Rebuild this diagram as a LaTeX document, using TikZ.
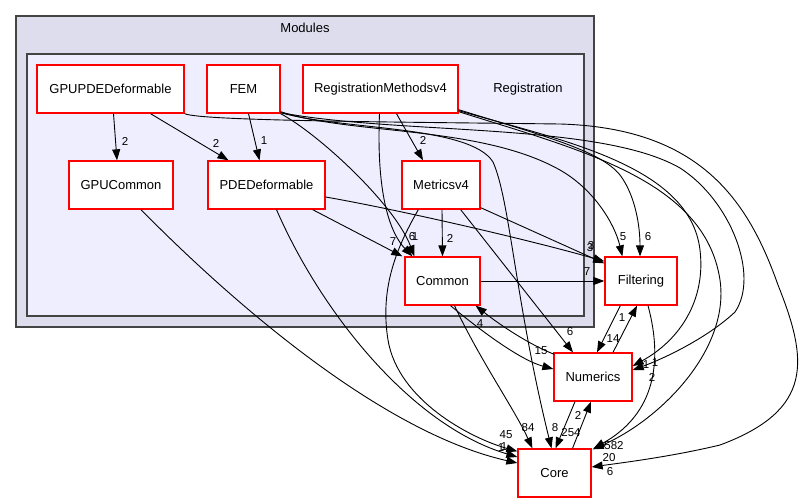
\documentclass[tikz,border=0pt]{standalone}
\usepackage{fontspec}
\setmainfont{Liberation Sans}
\usetikzlibrary{arrows.meta,calc}
\definecolor{modfill}{HTML}{DDDDEE}
\definecolor{regfill}{HTML}{EEEEFF}
\definecolor{clborder}{HTML}{444444}

\begin{document}
\begin{tikzpicture}[x=1pt,y=-1pt,
  dirbox/.style={draw=red,line width=1.3pt,fill=white,minimum height=48pt,inner sep=0pt,font=\fontsize{13}{15}\selectfont},
  dep/.style={line width=0.9pt,-{Triangle[length=11pt,width=8pt]}},
  num/.style={inner sep=0pt,font=\fontsize{11.5}{12}\selectfont}]
\useasboundingbox (0,0) rectangle (806,503);
% Clusters
\filldraw[fill=modfill,draw=clborder,line width=1.5pt] (16,16) rectangle (594,327);
\node[font=\fontsize{13}{15}\selectfont] (modlbl) at (305,28) {Modules};
\filldraw[fill=regfill,draw=clborder,line width=1.5pt] (27,54) rectangle (584,316);
\node[font=\fontsize{13}{15}\selectfont] (reglbl) at (528,89) {Registration};
% Directories
\node[dirbox,minimum width=147pt] (gpupde) at (110.5,89) {GPUPDEDeformable};
\node[dirbox,minimum width=73pt] (fem) at (243.5,89) {FEM};
\node[dirbox,minimum width=155pt] (regm) at (380.5,89) {RegistrationMethodsv4};
\node[dirbox,minimum width=104pt] (gpucommon) at (121,185) {GPUCommon};
\node[dirbox,minimum width=117pt] (pdedef) at (266.5,185) {PDEDeformable};
\node[dirbox,minimum width=78pt] (metrics) at (441,185) {Metricsv4};
\node[dirbox,minimum width=75pt] (common) at (442.5,281) {Common};
\node[dirbox,minimum width=72pt] (filtering) at (641,281) {Filtering};
\node[dirbox,minimum width=78pt] (numerics) at (593,377) {Numerics};
\node[dirbox,minimum width=73pt] (core) at (554.5,473) {Core};
% Dependencies inside Registration
\draw[dep] ($(gpupde.south)+(3,0)$) -- ($(gpucommon.north)+(-4,0)$);
\draw[dep] ($(gpupde.south)+(40,0)$) -- ($(pdedef.north)+(-38,0)$);
\draw[dep] ($(fem.south)+(5,0)$) -- ($(pdedef.north)+(-7,0)$);
\draw[dep] ($(regm.south)+(16,0)$) -- ($(metrics.north)+(-18,0)$);
\draw[dep] ($(pdedef.south east)+(-13,0)$) -- ($(common.north west)+(-2,0)$);
\draw[dep] ($(metrics.south)+(1,0)$) -- (common.north);
\draw[dep] (fem.south east) .. controls (320,135) and (395,205) .. ($(common.north west)+(10,0)$);
\draw[dep] ($(regm.south)+(-1,0)$) .. controls (376,200) and (392,235) .. ($(common.north west)+(8,0)$);
% To Core
\draw[dep] ($(metrics.south west)+(17,0)$) .. controls (395,250) and (380,290) .. (388,340)
  .. controls (398,400) and (470,438) .. ($(core.north west)+(0,3)$);
\draw[dep] ($(pdedef.south)+(10,0)$) .. controls (320,310) and (410,425) .. ($(core.west)+(0,-16)$);
\draw[dep] ($(gpucommon.south)+(20,0)$) .. controls (230,300) and (380,432) .. ($(core.west)+(0,-10)$);
\draw[dep] ($(fem.south east)+(0,-1)$) .. controls (340,130) and (470,125) .. (493,162)
  .. controls (510,200) and (515,300) .. ($(core.north)+(-3,0)$);
\draw[dep] ($(common.south)+(12,0)$) .. controls (480,360) and (515,410) .. ($(core.north west)+(15,0)$);
\draw[dep] (gpupde.south east) .. controls (200,121) and (400,122) .. (560,124)
  .. controls (700,128) and (748,200) .. (778,285)
  .. controls (808,360) and (814,410) .. (720,445)
  .. controls (670,457) and (620,463) .. ($(core.east)+(0,-6)$);
\draw[dep] ($(regm.south east)+(0,-2)$) .. controls (580,150) and (705,180) .. (720,280)
  .. controls (730,350) and (660,420) .. ($(core.north east)+(1,1)$);
% To Filtering
\draw[dep] (common.east) -- (filtering.west);
\draw[dep] ($(pdedef.east)+(0,12)$) .. controls (400,210) and (530,240) .. ($(filtering.north west)+(0,5)$);
\draw[dep] ($(metrics.south east)+(0,-2)$) -- ($(filtering.north west)+(0,7)$);
\draw[dep] ($(fem.south east)+(0,-2)$) .. controls (350,135) and (480,125) .. (560,170)
  .. controls (595,190) and (615,225) .. ($(filtering.north west)+(18,0)$);
\draw[dep] ($(regm.south east)+(0,-4)$) .. controls (540,135) and (600,150) .. (620,175)
  .. controls (635,195) and (640,225) .. ($(filtering.north)+(-1,0)$);
% To Numerics
\draw[dep] ($(metrics.south east)+(-20,0)$) -- ($(numerics.north)+(-20,0)$);
\draw[dep] ($(common.south)+(8,0)$) .. controls (480,330) and (520,360) .. ($(numerics.west)+(0,-8)$);
\draw[dep] ($(regm.south east)+(0,-3)$) .. controls (560,140) and (690,165) .. (700,250)
  .. controls (706,300) and (680,340) .. ($(numerics.east)+(0,-11)$);
\draw[dep] ($(fem.south east)+(0,-1)$) .. controls (400,135) and (600,122) .. (680,168)
  .. controls (730,200) and (760,275) .. (735,312)
  .. controls (705,340) and (660,360) .. ($(numerics.east)+(0,-7)$);
\draw[dep] ($(filtering.south west)+(16,0)$) -- ($(numerics.north)+(4,0)$);
\draw[dep] ($(numerics.north)+(20,0)$) -- ($(filtering.south)+(-4,0)$);
\draw[dep] ($(numerics.north west)+(1,2)$) .. controls (530,345) and (500,325) .. ($(common.south east)+(-5,0)$);
\draw[dep] ($(filtering.south)+(7,0)$) .. controls (660,350) and (662,410) .. ($(core.north east)+(2,0)$);
\draw[dep] ($(numerics.south)+(-18,0)$) -- ($(core.north)+(1,0)$);
\draw[dep] ($(core.north)+(18,0)$) -- ($(numerics.south)+(-2,0)$);
% Numbers
\node[num] (n1) at (125,141) {2};
\node[num] (n2) at (216,143) {2};
\node[num] (n3) at (264,141) {1};
\node[num] (n4) at (423,140) {2};
\node[num] (n5) at (393,242) {7};
\node[num] (n6) at (412,237) {6};
\node[num] (n7) at (415,237) {1};
\node[num] (n8) at (450,238) {2};
\node[num] (n9) at (590,248) {3};
\node[num] (n10) at (591,246) {3};
\node[num] (n11) at (623,237) {5};
\node[num] (n12) at (648,237) {6};
\node[num] (n13) at (587,272) {7};
\node[num] (n14) at (480,324) {4};
\node[num] (n15) at (541,351) {15};
\node[num] (n16) at (570,332) {6};
\node[num] (n17) at (613,339) {14};
\node[num] (n18) at (622,318) {1};
\node[num] (n19) at (646,365) {1};
\node[num] (n20) at (655,363) {1};
\node[num] (n21) at (652,377) {2};
\node[num] (n22) at (578,415) {2};
\node[num] (n23) at (571,433) {254};
\node[num] (n24) at (555,428) {8};
\node[num] (n25) at (528,428) {84};
\node[num] (n26) at (506,435) {45};
\node[num] (n27) at (501,448) {1};
\node[num] (n28) at (504,447) {1};
\node[num] (n29) at (614,446) {582};
\node[num] (n30) at (609,458) {20};
\node[num] (n31) at (610,472) {6};
\end{tikzpicture}
\end{document}
